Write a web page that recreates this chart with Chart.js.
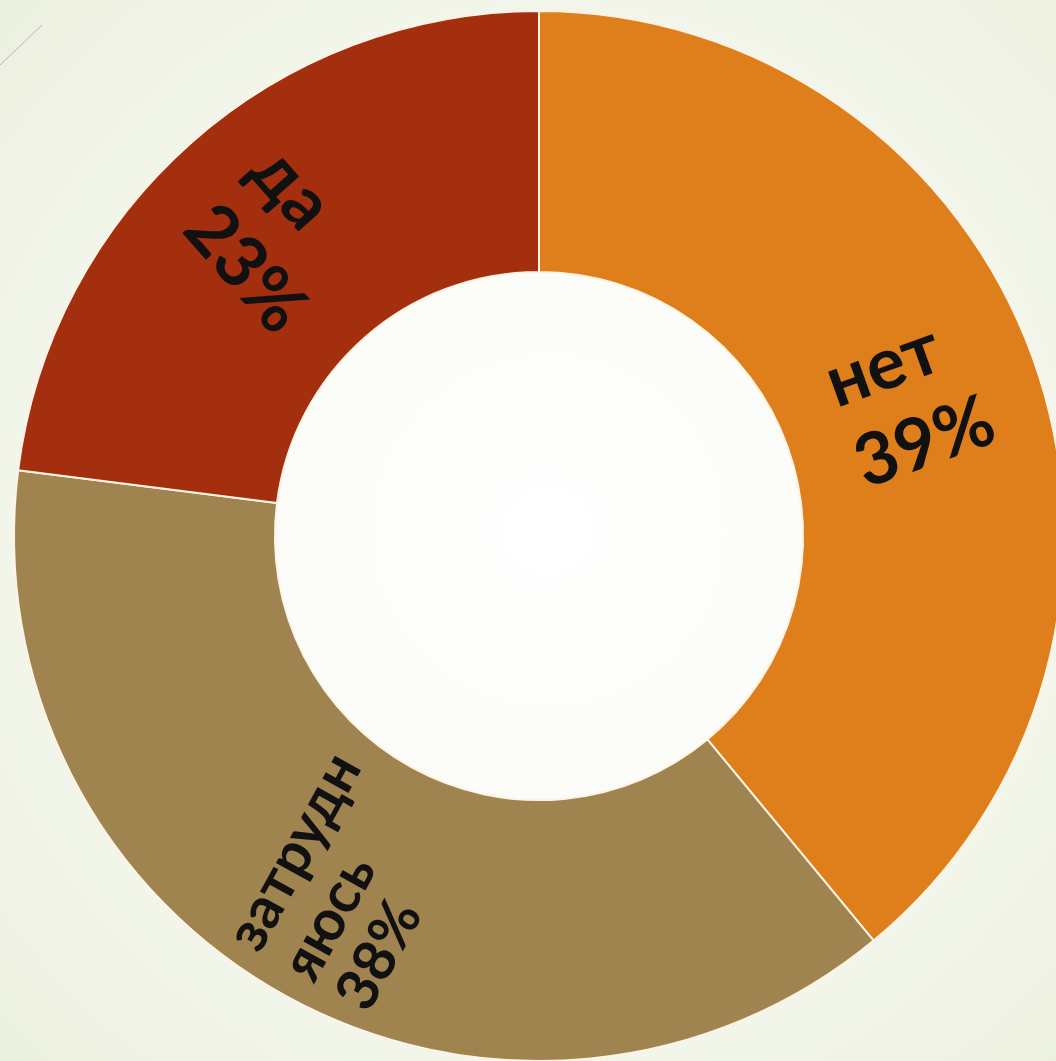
<!DOCTYPE html>
<html>
<head>
<meta charset="utf-8">
<script src="https://cdn.jsdelivr.net/npm/chart.js@4"></script>
<style>
  html,body{margin:0;padding:0;overflow:hidden;width:1056px;height:1061px;}
  body{background:radial-gradient(circle at 52% 50%, #ffffff 0%, #fbfcf7 40%, #f1f4e8 75%, #ecf0df 100%);}
  #wrap{position:absolute;left:0;top:0;width:1078px;height:1072px;}
</style>
</head>
<body>
<div id="wrap"><canvas id="c"></canvas></div>
<script>
const categories = ['нет', 'затрудняюсь', 'да'];
const values = [39, 38, 23];
const labelLines = [['нет'], ['затрудн', 'яюсь'], ['да']];
const colors = ['#DE7F1B', '#A0844F', '#A42F0E'];
const labelStyle = [
  {size: 72, lh: 86},
  {size: 58, lh: 62},
  {size: 72, lh: 88}
];

const sliceLabels = {
  id: 'sliceLabels',
  beforeDraw(chart) {
    const ctx = chart.ctx;
    ctx.save();
    ctx.strokeStyle = '#b4b6ad';
    ctx.lineWidth = 1;
    ctx.beginPath();
    ctx.moveTo(0, 65);
    ctx.lineTo(42, 25);
    ctx.stroke();
    ctx.restore();
  },
  afterDatasetsDraw(chart) {
    const ctx = chart.ctx;
    const meta = chart.getDatasetMeta(0);
    meta.data.forEach((arc, i) => {
      const p = arc.getProps(['x', 'y', 'startAngle', 'endAngle', 'innerRadius', 'outerRadius'], true);
      const mid = (p.startAngle + p.endAngle) / 2;
      const r = (p.innerRadius + p.outerRadius) / 2;
      const cx = p.x + Math.cos(mid) * r;
      const cy = p.y + Math.sin(mid) * r;
      let rot = mid;
      while (rot > Math.PI / 2) rot -= Math.PI;
      while (rot <= -Math.PI / 2) rot += Math.PI;
      const st = labelStyle[i];
      const lines = labelLines[i].concat([values[i] + '%']);
      ctx.save();
      ctx.translate(cx, cy);
      ctx.rotate(rot);
      ctx.font = 'bold ' + st.size + 'px Lato, "Open Sans", sans-serif';
      ctx.fillStyle = '#111111';
      ctx.textBaseline = 'middle';
      ctx.textAlign = 'left';
      const w = Math.max(...lines.map(l => ctx.measureText(l).width));
      const h = st.lh * (lines.length - 1);
      lines.forEach((l, k) => {
        ctx.fillText(l, -w / 2, -h / 2 + k * st.lh);
      });
      ctx.restore();
    });
  }
};

new Chart(document.getElementById('c'), {
  type: 'doughnut',
  data: {
    labels: categories,
    datasets: [{
      data: values,
      backgroundColor: colors,
      borderColor: '#fff3e6',
      borderWidth: 2
    }]
  },
  options: {
    responsive: true,
    maintainAspectRatio: false,
    animation: false,
    cutout: '50.3%',
    layout: {padding: 10},
    plugins: {legend: {display: false}, tooltip: {enabled: false}}
  },
  plugins: [sliceLabels]
});
</script>
</body>
</html>
